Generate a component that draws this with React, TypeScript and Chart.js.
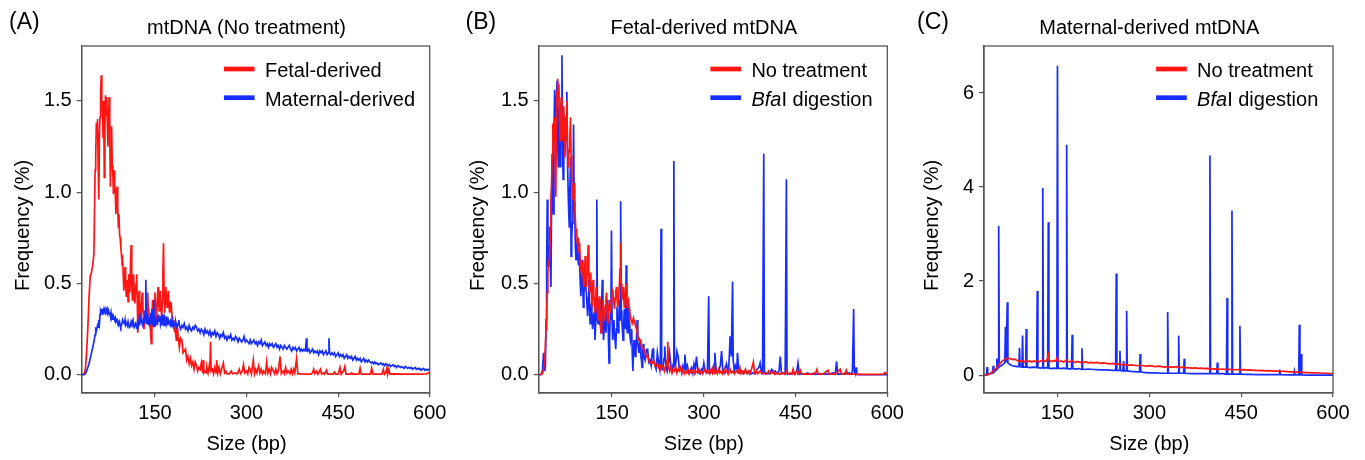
import React, { useEffect, useRef } from 'react';
import { Chart, registerables } from 'chart.js';
Chart.register(...registerables);

type Pt = [number, number];

const FONT = '"Liberation Sans", Arial, Helvetica, sans-serif';
const RED = 'rgb(255,22,18)';
const BLUE = 'rgb(22,45,255)';
const AXIS = '#555';

const X_TICKS = [150, 300, 450, 600];
const Y_TICKS_AB = [0, 0.5, 1.0, 1.5];
const Y_TICKS_C = [0, 2, 4, 6];
const X_TITLE = 'Size (bp)';
const Y_TITLE = 'Frequency (%)';

// Panel A: fetal-derived, no treatment
const FETAL_A: Pt[] = [[30,0],[34,0.005],[36,0.03],[38,0.12],[40,0.25],[42,0.42],[44,0.54],[46,0.56],[48,0.6],[50,0.66],[51,0.9],[52,1.12],[53,1.2],[54,1.38],[55,1.3],[56,1.4],[57,1.15],[58,0.96],[59,1.3],[60,1.41],[61,1.55],[62,1.64],[63,1.5],[64,1.45],[65,1.3],[66,1.5],[67,1.08],[68,1.35],[69,1.53],[70,1.42],[71,1.52],[72,1.38],[73,1.25],[74,1.4],[75,1.52],[76,1.3],[77,1.03],[78,1.2],[79,1.36],[80,1.15],[81,1.1],[82,0.99],[83,1.12],[84,1.05],[85,1.0],[86,0.88],[87,0.98],[88,1.03],[89,0.92],[90,0.81],[91,0.88],[92,0.77],[93,0.75],[94,0.7],[95,0.66],[96,0.62],[97,0.63],[98,0.55],[99,0.46],[100,0.52],[101,0.59],[102,0.5],[103,0.43],[104,0.48],[105,0.52],[106,0.4],[107,0.55],[108,0.5],[109,0.45],[110,0.62],[111,0.71],[112,0.5],[113,0.41],[114,0.48],[115,0.55],[116,0.44],[117,0.39],[118,0.45],[119,0.5],[120,0.55],[121,0.4],[122,0.23],[123,0.35],[124,0.46],[125,0.4],[126,0.33],[127,0.3],[128,0.38],[129,0.45],[130,0.4],[131,0.32],[132,0.25],[133,0.3],[134,0.35],[135,0.28],[136,0.3],[137,0.38],[138,0.45],[139,0.36],[140,0.3],[141,0.28],[142,0.32],[143,0.22],[144,0.17],[145,0.3],[146,0.41],[147,0.33],[148,0.26],[149,0.38],[150,0.45],[151,0.38],[152,0.3],[153,0.34],[154,0.42],[155,0.48],[156,0.4],[157,0.35],[158,0.42],[159,0.46],[160,0.38],[161,0.3],[162,0.4],[163,0.55],[164,0.72],[165,0.45],[166,0.34],[167,0.42],[168,0.48],[169,0.4],[170,0.37],[171,0.42],[172,0.46],[173,0.38],[174,0.34],[175,0.4],[176,0.36],[177,0.37],[178,0.32],[179,0.3],[180,0.28],[181,0.3],[182,0.25],[183,0.26],[184,0.22],[185,0.19],[186,0.23],[187,0.26],[188,0.2],[189,0.18],[190,0.15],[192,0.2],[194,0.19],[196,0.12],[198,0.13],[200,0.14],[202,0.08],[204,0.1],[206,0.06],[208,0.09],[210,0.05],[212,0.07],[214,0.03],[216,0.07],[218,0.05],[220,0.02],[222,0.04],[224,0.03],[226,0.065],[228,0.01],[229,0.08],[230,0.01],[232,0.02],[234,0.01],[235,0.04],[237,0.01],[239,0.05],[240,0.02],[241,0.18],[242,0.02],[244,0.03],[246,0.005],[248,0.04],[250,0.01],[251,0.08],[253,0.01],[255,0.04],[257,0.005],[259,0.03],[262,0.064],[264,0.01],[266,0.02],[268,0.005],[272,0.005],[275,0.02],[277,0.005],[282,0.01],[285,0.005],[288,0.03],[290,0.005],[293,0.02],[295,0.055],[297,0.01],[300,0.02],[302,0.005],[304,0.04],[306,0.03],[308,0.005],[311,0.08],[313,0.005],[315,0.03],[317,0.01],[320,0.05],[322,0.01],[324,0.03],[326,0.005],[328,0.02],[331,0.005],[333,0.07],[335,0.01],[337,0.03],[339,0.005],[341,0.04],[344,0.02],[346,0.005],[348,0.03],[350,0.005],[352,0.02],[355,0.1],[357,0.005],[360,0.02],[362,0.005],[364,0.04],[366,0.01],[368,0.02],[371,0.005],[373,0.03],[375,0.005],[377,0.03],[379,0.01],[382,0.09],[384,0.005],[390,0.005],[398,0.003],[405,0.003],[408,0.01],[410,0.03],[412,0.005],[415,0.02],[417,0.003],[421,0.03],[423,0.003],[426,0.01],[428,0.003],[431,0.025],[433,0.003],[442,0.003],[444,0.015],[446,0.003],[450,0.003],[453,0.04],[455,0.003],[459,0.02],[461,0.045],[463,0.003],[470,0.003],[472,0.01],[474,0.003],[484,0.003],[486,0.036],[488,0.003],[503,0.003],[505,0.036],[507,0.003],[522,0.003],[524,0.03],[526,0.003],[528,0.01],[530,0.04],[531,0.003],[533,0.03],[535,0.003],[540,0.005],[560,0.003],[580,0.003],[595,0.005],[598,0.01],[600,0.012]];

// Panel A: maternal-derived, no treatment
const MATERNAL_A: Pt[] = [[30,0],[34,0],[36,0.005],[38,0.02],[40,0.04],[42,0.06],[44,0.09],[46,0.12],[48,0.15],[50,0.18],[52,0.22],[53,0.26],[54,0.24],[56,0.27],[57,0.26],[58,0.3],[59,0.28],[60,0.33],[61,0.35],[62,0.34],[63,0.36],[64,0.34],[65,0.35],[66,0.33],[67,0.36],[68,0.35],[69,0.34],[70,0.36],[71,0.35],[72,0.36],[73,0.34],[74,0.35],[75,0.33],[76,0.34],[77,0.32],[78,0.34],[79,0.31],[80,0.32],[81,0.3],[82,0.32],[84,0.3],[85,0.31],[86,0.29],[88,0.3],[89,0.28],[90,0.27],[92,0.29],[93,0.27],[94,0.26],[96,0.28],[97,0.3],[98,0.29],[100,0.28],[101,0.3],[102,0.27],[104,0.28],[105,0.27],[106,0.29],[108,0.26],[110,0.27],[111,0.29],[112,0.28],[114,0.3],[115,0.27],[116,0.26],[118,0.28],[120,0.26],[121,0.28],[122,0.25],[124,0.3],[125,0.27],[126,0.32],[128,0.29],[130,0.27],[131,0.31],[132,0.28],[133,0.3],[134,0.35],[135,0.52],[136,0.3],[137,0.28],[138,0.33],[139,0.3],[140,0.27],[141,0.31],[142,0.28],[143,0.34],[144,0.29],[145,0.36],[146,0.3],[147,0.27],[148,0.41],[149,0.3],[150,0.26],[151,0.32],[152,0.28],[153,0.3],[154,0.27],[155,0.33],[156,0.29],[157,0.31],[158,0.32],[159,0.28],[160,0.3],[161,0.27],[162,0.33],[163,0.29],[164,0.3],[165,0.27],[166,0.31],[168,0.28],[169,0.32],[170,0.29],[171,0.27],[172,0.3],[174,0.28],[175,0.29],[176,0.26],[178,0.3],[179,0.27],[180,0.26],[182,0.28],[183,0.27],[184,0.29],[186,0.26],[188,0.28],[189,0.3],[190,0.27],[192,0.25],[194,0.27],[196,0.26],[198,0.28],[200,0.25],[202,0.26],[204,0.24],[206,0.27],[208,0.25],[210,0.24],[212,0.26],[214,0.25],[216,0.27],[218,0.26],[220,0.24],[222,0.25],[224,0.23],[226,0.25],[228,0.24],[230,0.22],[232,0.25],[234,0.23],[236,0.24],[238,0.22],[240,0.24],[242,0.21],[244,0.23],[246,0.22],[248,0.24],[250,0.21],[252,0.23],[254,0.22],[256,0.2],[258,0.22],[260,0.21],[262,0.23],[264,0.2],[266,0.21],[268,0.19],[270,0.21],[272,0.2],[274,0.22],[276,0.19],[278,0.2],[280,0.19],[282,0.21],[284,0.2],[286,0.18],[288,0.2],[290,0.19],[292,0.18],[294,0.19],[296,0.21],[298,0.18],[300,0.19],[302,0.18],[304,0.17],[306,0.19],[308,0.17],[310,0.18],[312,0.19],[314,0.17],[316,0.18],[318,0.16],[320,0.18],[322,0.17],[324,0.19],[326,0.16],[328,0.17],[330,0.18],[332,0.16],[334,0.17],[336,0.15],[338,0.17],[340,0.16],[342,0.17],[344,0.15],[346,0.16],[348,0.17],[350,0.15],[352,0.16],[354,0.14],[356,0.16],[358,0.15],[360,0.14],[362,0.16],[364,0.15],[366,0.14],[368,0.15],[370,0.16],[372,0.14],[374,0.13],[376,0.15],[378,0.14],[380,0.15],[382,0.13],[384,0.14],[386,0.15],[388,0.13],[390,0.14],[392,0.13],[394,0.14],[396,0.13],[397,0.15],[398,0.2],[399,0.14],[400,0.13],[402,0.14],[404,0.12],[406,0.13],[408,0.14],[410,0.12],[412,0.13],[414,0.12],[416,0.13],[418,0.11],[420,0.13],[422,0.12],[424,0.13],[426,0.11],[428,0.12],[430,0.13],[432,0.11],[434,0.12],[435,0.2],[436,0.12],[438,0.11],[440,0.12],[442,0.11],[444,0.12],[446,0.1],[448,0.11],[450,0.12],[452,0.1],[454,0.11],[456,0.1],[458,0.11],[460,0.09],[462,0.1],[464,0.11],[466,0.09],[468,0.1],[470,0.09],[472,0.1],[474,0.08],[476,0.09],[478,0.1],[480,0.08],[482,0.09],[484,0.08],[486,0.09],[488,0.07],[490,0.08],[492,0.09],[494,0.07],[496,0.08],[498,0.07],[500,0.08],[502,0.07],[504,0.065],[506,0.07],[508,0.06],[510,0.07],[512,0.06],[514,0.065],[516,0.055],[518,0.06],[520,0.065],[522,0.055],[524,0.06],[526,0.05],[528,0.06],[530,0.055],[532,0.05],[534,0.055],[536,0.045],[538,0.05],[540,0.055],[542,0.045],[544,0.05],[546,0.04],[548,0.05],[550,0.045],[552,0.04],[554,0.045],[556,0.04],[558,0.035],[560,0.045],[562,0.04],[564,0.035],[566,0.04],[568,0.035],[570,0.04],[572,0.03],[574,0.035],[576,0.04],[578,0.03],[580,0.035],[582,0.03],[584,0.035],[586,0.025],[588,0.03],[590,0.035],[592,0.025],[594,0.03],[596,0.025],[598,0.03],[600,0.025]];

// Panel B: fetal-derived, no treatment
const FETAL_B_NT: Pt[] = [[30,0],[36,0.005],[38,0.03],[40,0.08],[42,0.25],[43,0.35],[44,0.45],[45,0.56],[46,0.6],[48,0.65],[49,0.8],[50,0.95],[51,1.05],[52,1.2],[53,1.375],[54,1.3],[55,1.38],[56,1.41],[57,1.2],[58,0.975],[59,1.35],[60,1.55],[61,1.62],[62,1.5],[63,1.59],[64,1.4],[65,1.28],[66,1.45],[67,1.52],[68,1.4],[69,1.28],[70,1.38],[71,1.47],[72,1.35],[73,1.19],[74,1.3],[75,1.42],[76,1.5],[77,1.3],[78,1.14],[79,1.2],[80,1.23],[81,1.3],[82,1.41],[83,1.2],[84,1.07],[85,1.0],[86,0.96],[87,1.0],[88,1.05],[89,0.9],[90,0.85],[91,0.77],[92,0.8],[93,0.72],[94,0.75],[95,0.67],[96,0.72],[97,0.7],[98,0.62],[99,0.58],[100,0.56],[101,0.62],[102,0.59],[103,0.52],[104,0.48],[105,0.55],[106,0.65],[107,0.55],[108,0.48],[109,0.55],[110,0.63],[111,0.71],[112,0.55],[113,0.45],[114,0.5],[115,0.56],[116,0.45],[117,0.37],[118,0.45],[119,0.52],[120,0.44],[121,0.38],[122,0.34],[123,0.4],[124,0.48],[125,0.4],[126,0.35],[127,0.3],[128,0.37],[129,0.43],[130,0.36],[131,0.3],[132,0.23],[133,0.3],[134,0.36],[135,0.41],[136,0.35],[137,0.3],[138,0.32],[139,0.38],[140,0.42],[141,0.45],[142,0.35],[143,0.28],[144,0.33],[145,0.38],[146,0.41],[147,0.36],[148,0.34],[149,0.4],[150,0.44],[151,0.47],[152,0.42],[153,0.39],[154,0.36],[155,0.42],[156,0.45],[157,0.48],[158,0.42],[159,0.37],[160,0.4],[161,0.45],[162,0.5],[163,0.58],[164,0.72],[165,0.5],[166,0.41],[167,0.45],[168,0.48],[169,0.42],[170,0.37],[171,0.42],[172,0.46],[173,0.5],[174,0.42],[175,0.37],[176,0.4],[177,0.41],[178,0.36],[179,0.34],[180,0.32],[181,0.3],[182,0.29],[183,0.28],[184,0.3],[185,0.31],[186,0.29],[187,0.3],[188,0.27],[189,0.26],[190,0.25],[191,0.23],[192,0.21],[193,0.19],[194,0.2],[196,0.19],[198,0.155],[200,0.15],[202,0.14],[204,0.12],[206,0.1],[208,0.11],[210,0.08],[212,0.064],[214,0.07],[216,0.065],[218,0.08],[220,0.05],[222,0.046],[224,0.06],[226,0.04],[228,0.055],[230,0.03],[232,0.05],[234,0.045],[236,0.02],[238,0.05],[240,0.08],[241,0.18],[242,0.05],[244,0.02],[246,0.04],[248,0.01],[250,0.03],[252,0.02],[254,0.045],[256,0.01],[258,0.03],[260,0.02],[262,0.04],[264,0.01],[266,0.03],[268,0.005],[270,0.02],[272,0.01],[274,0.03],[276,0.005],[278,0.02],[280,0.01],[283,0.03],[285,0.005],[287,0.02],[290,0.01],[292,0.03],[294,0.01],[296,0.02],[298,0.005],[300,0.02],[302,0.03],[305,0.01],[307,0.02],[309,0.005],[312,0.03],[314,0.01],[316,0.045],[318,0.01],[320,0.02],[322,0.005],[324,0.03],[326,0.01],[328,0.02],[330,0.005],[333,0.03],[335,0.01],[338,0.025],[340,0.005],[343,0.03],[345,0.01],[348,0.02],[350,0.005],[353,0.02],[356,0.01],[359,0.04],[361,0.005],[364,0.02],[366,0.01],[368,0.03],[370,0.01],[373,0.02],[375,0.005],[378,0.03],[381,0.07],[383,0.01],[386,0.02],[388,0.005],[392,0.02],[395,0.005],[398,0.01],[403,0.003],[406,0.02],[408,0.005],[412,0.01],[414,0.02],[416,0.003],[420,0.01],[424,0.003],[428,0.01],[432,0.003],[435,0.02],[437,0.003],[441,0.01],[444,0.003],[446,0.03],[448,0.003],[452,0.02],[454,0.003],[458,0.025],[460,0.003],[465,0.005],[468,0.003],[475,0.003],[480,0.01],[482,0.003],[485,0.03],[487,0.003],[495,0.003],[503,0.025],[505,0.003],[515,0.003],[523,0.03],[525,0.003],[530,0.003],[533,0.025],[535,0.003],[545,0.003],[560,0.002],[580,0.002],[594,0.003],[596,0.012],[598,0.01],[600,0.005]];

// Panel B: fetal-derived, BfaI digestion
const FETAL_B_BFA: Pt[] = [[30,0],[34,0],[36,0.02],[38,0.12],[39,0.05],[40,0.02],[41,0.05],[42,0.3],[43,0.6],[44,0.96],[45,0.7],[46,0.59],[47,0.7],[48,0.81],[49,0.6],[50,0.48],[51,0.9],[52,1.21],[53,0.95],[54,0.88],[55,1.3],[56,1.56],[57,1.45],[58,1.39],[59,1.5],[60,1.61],[61,1.3],[62,1.14],[63,1.35],[64,1.47],[65,1.14],[66,1.3],[67,1.5],[68,1.75],[69,1.25],[70,1.07],[71,1.2],[72,1.41],[73,1.35],[74,1.28],[75,1.4],[76,1.55],[77,1.2],[78,1.03],[79,0.9],[80,0.81],[81,1.0],[82,1.19],[83,0.65],[84,0.75],[85,0.83],[86,0.95],[87,1.37],[88,0.95],[89,0.88],[90,0.7],[91,0.63],[92,0.7],[93,0.74],[94,0.67],[95,0.6],[96,0.67],[97,0.59],[98,0.5],[99,0.43],[100,0.52],[101,0.63],[102,0.5],[103,0.37],[104,0.45],[105,0.5],[106,0.56],[107,0.48],[108,0.45],[109,0.38],[110,0.32],[111,0.42],[112,0.52],[113,0.38],[114,0.28],[115,0.32],[116,0.39],[117,0.34],[118,0.25],[119,0.3],[120,0.33],[121,0.34],[122,0.19],[123,0.26],[124,0.4],[125,0.96],[126,0.3],[127,0.28],[128,0.34],[129,0.41],[130,0.3],[131,0.26],[132,0.23],[133,0.4],[134,0.52],[135,0.3],[136,0.19],[137,0.25],[138,0.34],[139,0.3],[140,0.23],[141,0.3],[142,0.38],[143,0.41],[144,0.2],[145,0.065],[146,0.2],[147,0.34],[148,0.3],[149,0.79],[150,0.3],[151,0.19],[152,0.25],[153,0.3],[154,0.22],[155,0.18],[156,0.14],[157,0.25],[158,0.37],[159,0.28],[160,0.23],[161,0.3],[162,0.41],[163,0.3],[164,0.95],[165,0.35],[166,0.3],[167,0.24],[168,0.19],[169,0.28],[170,0.36],[171,0.3],[172,0.25],[173,0.6],[174,0.3],[175,0.23],[176,0.3],[177,0.37],[178,0.28],[179,0.22],[180,0.19],[181,0.22],[182,0.25],[183,0.12],[184,0.02],[185,0.12],[186,0.19],[187,0.15],[188,0.1],[189,0.14],[190,0.2],[191,0.3],[192,0.18],[193,0.14],[194,0.12],[196,0.19],[197,0.1],[198,0.08],[199,0.04],[200,0.12],[201,0.17],[202,0.1],[204,0.08],[206,0.137],[208,0.14],[210,0.07],[212,0.08],[214,0.05],[216,0.137],[217,0.14],[218,0.09],[220,0.05],[222,0.03],[224,0.12],[226,0.07],[228,0.03],[229,0.1],[230,0.8],[231,0.04],[233,0.03],[235,0.09],[236,0.155],[238,0.05],[240,0.02],[242,0.06],[244,0.12],[246,0.05],[248,0.02],[250,0.06],[251,1.17],[252,0.05],[254,0.06],[256,0.128],[258,0.1],[260,0.03],[262,0.04],[264,0.01],[266,0.05],[268,0.03],[269,0.11],[271,0.03],[273,0.05],[275,0.01],[277,0.02],[280,0.04],[282,0.01],[284,0.06],[286,0.03],[288,0.1],[290,0.03],[292,0.01],[294,0.005],[296,0.03],[298,0.02],[300,0.064],[302,0.02],[304,0.01],[306,0.03],[308,0.43],[309,0.03],[311,0.01],[313,0.02],[315,0.04],[317,0.01],[318,0.12],[320,0.03],[322,0.01],[324,0.02],[327,0.05],[329,0.13],[331,0.03],[333,0.01],[335,0.04],[337,0.06],[339,0.02],[341,0.05],[343,0.21],[345,0.1],[347,0.51],[348,0.08],[350,0.02],[352,0.05],[354,0.03],[355,0.12],[357,0.03],[359,0.01],[362,0.02],[365,0.005],[368,0.02],[371,0.005],[374,0.02],[377,0.005],[380,0.01],[384,0.005],[387,0.03],[390,0.04],[392,0.065],[394,0.02],[396,0.01],[398,1.21],[399,0.02],[401,0.005],[404,0.01],[407,0.005],[411,0.03],[414,0.01],[417,0.02],[420,0.005],[423,0.02],[425,0.1],[427,0.005],[430,0.01],[433,0.005],[435,1.07],[436,0.01],[439,0.005],[442,0.003],[446,0.01],[449,0.003],[452,0.02],[454,0.064],[456,0.003],[460,0.005],[464,0.003],[470,0.01],[472,0.003],[479,0.005],[485,0.003],[495,0.005],[505,0.003],[512,0.01],[515,0.003],[517,0.073],[519,0.003],[525,0.005],[531,0.003],[538,0.01],[541,0.003],[543,0.02],[545,0.36],[546,0.02],[548,0.003],[549,0.04],[550,0.003],[553,0.001],[570,0],[600,0]];

// Panel C: maternal-derived, no treatment
const MATERNAL_C_NT: Pt[] = [[30,0],[34,0.005],[38,0.02],[42,0.05],[46,0.1],[50,0.15],[54,0.22],[57,0.26],[60,0.3],[62,0.32],[64,0.34],[66,0.35],[68,0.36],[70,0.35],[72,0.36],[75,0.34],[78,0.33],[80,0.34],[83,0.32],[86,0.3],[88,0.31],[90,0.29],[93,0.3],[96,0.28],[99,0.31],[102,0.29],[105,0.3],[108,0.28],[111,0.3],[114,0.29],[117,0.31],[120,0.28],[123,0.3],[126,0.32],[129,0.29],[132,0.31],[134,0.36],[135,0.5],[136,0.33],[138,0.3],[141,0.29],[144,0.31],[147,0.3],[149,0.36],[150,0.38],[151,0.3],[154,0.29],[157,0.3],[160,0.28],[163,0.3],[165,0.33],[167,0.29],[170,0.28],[173,0.3],[176,0.29],[179,0.27],[182,0.29],[185,0.28],[188,0.27],[191,0.28],[194,0.27],[197,0.28],[200,0.26],[205,0.27],[210,0.26],[215,0.27],[220,0.25],[225,0.26],[230,0.25],[235,0.24],[240,0.25],[245,0.23],[250,0.24],[255,0.22],[260,0.23],[265,0.21],[270,0.22],[275,0.21],[280,0.2],[285,0.21],[290,0.2],[295,0.19],[300,0.2],[305,0.19],[310,0.18],[315,0.19],[320,0.18],[325,0.17],[330,0.18],[335,0.17],[340,0.17],[345,0.18],[350,0.16],[355,0.17],[360,0.16],[365,0.155],[370,0.15],[375,0.155],[380,0.145],[385,0.15],[390,0.14],[395,0.145],[400,0.14],[405,0.13],[410,0.135],[415,0.125],[420,0.13],[425,0.12],[430,0.125],[435,0.12],[440,0.115],[445,0.12],[450,0.11],[455,0.115],[460,0.105],[465,0.11],[470,0.1],[475,0.1],[480,0.095],[485,0.1],[490,0.09],[495,0.095],[500,0.09],[505,0.085],[510,0.085],[515,0.08],[520,0.08],[525,0.075],[530,0.07],[535,0.07],[540,0.065],[545,0.065],[550,0.06],[555,0.055],[560,0.055],[565,0.05],[570,0.05],[575,0.045],[580,0.045],[585,0.04],[590,0.04],[595,0.035],[600,0.035]];

// Panel C: maternal-derived, BfaI digestion
const MATERNAL_C_BFA: Pt[] = [[30,0],[34,0.01],[35,0.17],[36,0.01],[40,0.03],[44,0.05],[45,0.2],[46,0.06],[49,0.1],[50,0.12],[51,0.35],[52,0.14],[53,0.16],[54,3.17],[55,0.18],[58,0.2],[62,0.24],[64,0.26],[65,1.03],[66,0.27],[67,0.27],[68,1.55],[69,0.26],[72,0.23],[76,0.2],[80,0.19],[84,0.18],[87,0.18],[88,0.58],[89,0.18],[92,0.17],[93,0.84],[94,0.17],[98,0.17],[99,0.98],[100,0.17],[105,0.16],[110,0.17],[116,0.16],[117,1.79],[118,0.16],[122,0.15],[125,0.16],[126,3.98],[127,0.15],[130,0.16],[134,0.15],[135,3.25],[136,0.15],[140,0.14],[145,0.15],[149,0.14],[150,6.58],[151,0.15],[155,0.14],[160,0.15],[164,0.14],[165,4.9],[166,0.14],[170,0.13],[173,0.14],[174,0.86],[175,0.14],[180,0.13],[185,0.14],[189,0.12],[190,0.57],[191,0.13],[195,0.12],[200,0.13],[210,0.12],[220,0.11],[230,0.11],[240,0.1],[245,0.1],[246,2.16],[247,0.1],[251,0.1],[252,0.52],[253,0.1],[257,0.09],[258,0.3],[259,0.09],[262,0.09],[263,1.37],[264,0.09],[270,0.08],[280,0.07],[284,0.07],[285,0.45],[286,0.07],[290,0.06],[300,0.05],[310,0.05],[320,0.04],[329,0.04],[330,1.34],[331,0.04],[340,0.04],[347,0.04],[348,0.84],[349,0.04],[356,0.04],[357,0.35],[358,0.04],[370,0.03],[380,0.03],[390,0.03],[398,0.03],[399,4.67],[400,0.03],[410,0.03],[411,0.27],[412,0.03],[420,0.03],[426,0.02],[427,1.64],[428,0.02],[434,0.02],[435,3.5],[436,0.02],[447,0.02],[448,1.05],[449,0.02],[460,0.015],[480,0.01],[500,0.01],[512,0.01],[513,0.12],[514,0.01],[530,0.005],[536,0.005],[537,0.08],[538,0.005],[544,0.005],[545,1.07],[546,0.005],[547,0.005],[548,0.45],[549,0.003],[560,0],[600,0]];

interface Part { text: string; italic?: boolean }
interface Series { parts: Part[]; data: Pt[]; color: string; order: number }
interface PanelSpec {
  letter: string;
  title: string;
  canvasLeft: number;
  padLeft: number;
  padRight: number;
  yMin: number;
  yMax: number;
  yTicks: number[];
  yDecimals: number;
  yTitleOffset: number;
  letterX: number;
  series: Series[];
}

const PANELS: PanelSpec[] = [
  {
    letter: 'A', title: 'mtDNA (No treatment)', canvasLeft: 0, padLeft: 21.7, padRight: 25.3,
    yMin: -0.1, yMax: 1.8, yTicks: Y_TICKS_AB, yDecimals: 1, yTitleOffset: 52.6, letterX: 9,
    series: [
      { parts: [{ text: 'Fetal-derived' }], data: FETAL_A, color: RED, order: 1 },
      { parts: [{ text: 'Maternal-derived' }], data: MATERNAL_A, color: BLUE, order: 0 },
    ],
  },
  {
    letter: 'B', title: 'Fetal-derived mtDNA', canvasLeft: 455, padLeft: 23.7, padRight: 22.7,
    yMin: -0.1, yMax: 1.8, yTicks: Y_TICKS_AB, yDecimals: 1, yTitleOffset: 54.6, letterX: 10.5,
    series: [
      { parts: [{ text: 'No treatment' }], data: FETAL_B_NT, color: RED, order: 0 },
      { parts: [{ text: 'Bfa', italic: true }, { text: 'I digestion' }], data: FETAL_B_BFA, color: BLUE, order: 1 },
    ],
  },
  {
    letter: 'C', title: 'Maternal-derived mtDNA', canvasLeft: 910, padLeft: 14, padRight: 32,
    yMin: -0.38, yMax: 7.0, yTicks: Y_TICKS_C, yDecimals: 0, yTitleOffset: 46.5, letterX: 7,
    series: [
      { parts: [{ text: 'No treatment' }], data: MATERNAL_C_NT, color: RED, order: 0 },
      { parts: [{ text: 'Bfa', italic: true }, { text: 'I digestion' }], data: MATERNAL_C_BFA, color: BLUE, order: 1 },
    ],
  },
];

const W = 455;
const H = 460;
const PLOT_TOP = 46;
const PLOT_BOTTOM = 393;
const Y_AXIS_W = 60;
const X_AXIS_H = 50;

function makeDecor(spec: PanelSpec) {
  return {
    id: 'decor' + spec.letter,
    afterDraw(chart: any) {
      const { ctx, chartArea: a, scales } = chart;
      const cx = scales.x.getPixelForValue(300);
      ctx.save();
      ctx.strokeStyle = AXIS;
      ctx.lineWidth = 1.3;
      ctx.strokeRect(a.left, a.top, a.right - a.left, a.bottom - a.top);

      ctx.fillStyle = '#000';
      ctx.textBaseline = 'alphabetic';
      ctx.textAlign = 'left';
      ctx.font = `23px ${FONT}`;
      ctx.fillText(`(${spec.letter})`, spec.letterX, 29);

      ctx.textAlign = 'center';
      ctx.font = `20px ${FONT}`;
      ctx.fillText(spec.title, cx, 34);
      ctx.fillText(X_TITLE, cx, 450);

      ctx.save();
      ctx.translate(a.left - spec.yTitleOffset, 225.5);
      ctx.rotate(-Math.PI / 2);
      ctx.textAlign = 'center';
      ctx.fillText(Y_TITLE, 0, 0);
      ctx.restore();

      // legend
      const fontFor = (p: Part) => `${p.italic ? 'italic ' : ''}20px ${FONT}`;
      const widthOf = (s: Series) => s.parts.reduce((w, p) => { ctx.font = fontFor(p); return w + ctx.measureText(p.text).width; }, 0);
      const maxW = Math.max(...spec.series.map(widthOf));
      const lx = a.right - 14.7 - maxW - 41;
      const rows = [a.top + 23, a.top + 51.7];
      const bases = [a.top + 30.8, a.top + 59.5];
      spec.series.forEach((s, i) => {
        ctx.strokeStyle = s.color;
        ctx.lineWidth = 4.7;
        ctx.beginPath();
        ctx.moveTo(lx, rows[i]);
        ctx.lineTo(lx + 30.7, rows[i]);
        ctx.stroke();
        let tx = lx + 41;
        ctx.textAlign = 'left';
        ctx.fillStyle = '#000';
        s.parts.forEach((p) => {
          ctx.font = fontFor(p);
          ctx.fillText(p.text, tx, bases[i]);
          tx += ctx.measureText(p.text).width;
        });
      });
      ctx.restore();
    },
  };
}

function Panel({ spec }: { spec: PanelSpec }) {
  const ref = useRef<HTMLCanvasElement | null>(null);
  useEffect(() => {
    if (!ref.current) return;
    const chart = new Chart(ref.current, {
      type: 'line',
      data: {
        datasets: spec.series.map((s) => ({
          label: s.parts.map((p) => p.text).join(''),
          data: s.data.map(([x, y]) => ({ x, y })),
          borderColor: s.color,
          backgroundColor: s.color,
          borderWidth: 1.7,
          pointRadius: 0,
          tension: 0,
          fill: false,
          order: s.order,
        })),
      },
      options: {
        animation: false,
        responsive: false,
        maintainAspectRatio: false,
        events: [],
        layout: {
          padding: {
            left: spec.padLeft,
            right: spec.padRight,
            top: PLOT_TOP,
            bottom: H - PLOT_BOTTOM - X_AXIS_H,
          },
        },
        plugins: { legend: { display: false }, tooltip: { enabled: false }, title: { display: false } },
        scales: {
          x: {
            type: 'linear',
            min: 30,
            max: 600,
            afterBuildTicks: (s: any) => { s.ticks = X_TICKS.map((value) => ({ value })); },
            afterFit: (s: any) => { s.height = X_AXIS_H; s.paddingLeft = 0; s.paddingRight = 0; },
            ticks: { font: { family: FONT, size: 20 }, color: '#000', padding: 4, maxRotation: 0, autoSkip: false },
            grid: { drawOnChartArea: false, drawTicks: true, tickLength: 4, color: AXIS, lineWidth: 1.2 },
            border: { display: true, color: AXIS, width: 1.3 },
          },
          y: {
            type: 'linear',
            min: spec.yMin,
            max: spec.yMax,
            afterBuildTicks: (s: any) => { s.ticks = spec.yTicks.map((value) => ({ value })); },
            afterFit: (s: any) => { s.width = Y_AXIS_W; s.paddingTop = 0; s.paddingBottom = 0; },
            ticks: {
              font: { family: FONT, size: 20 },
              color: '#000',
              padding: 5,
              autoSkip: false,
              callback: (v: any) => Number(v).toFixed(spec.yDecimals),
            },
            grid: { drawOnChartArea: false, drawTicks: true, tickLength: 5, color: AXIS, lineWidth: 1.2 },
            border: { display: true, color: AXIS, width: 1.3 },
          },
        },
      },
      plugins: [makeDecor(spec)],
    } as any);
    return () => chart.destroy();
  }, [spec]);
  return (
    <canvas
      ref={ref}
      width={W}
      height={H}
      style={{ position: 'absolute', left: spec.canvasLeft, top: 0, width: W, height: H }}
    />
  );
}

export default function App() {
  return (
    <div style={{ position: 'fixed', left: 0, top: 0, width: 1365, height: 460, background: '#fff', overflow: 'hidden' }}>
      {PANELS.map((p) => (
        <Panel key={p.letter} spec={p} />
      ))}
    </div>
  );
}
